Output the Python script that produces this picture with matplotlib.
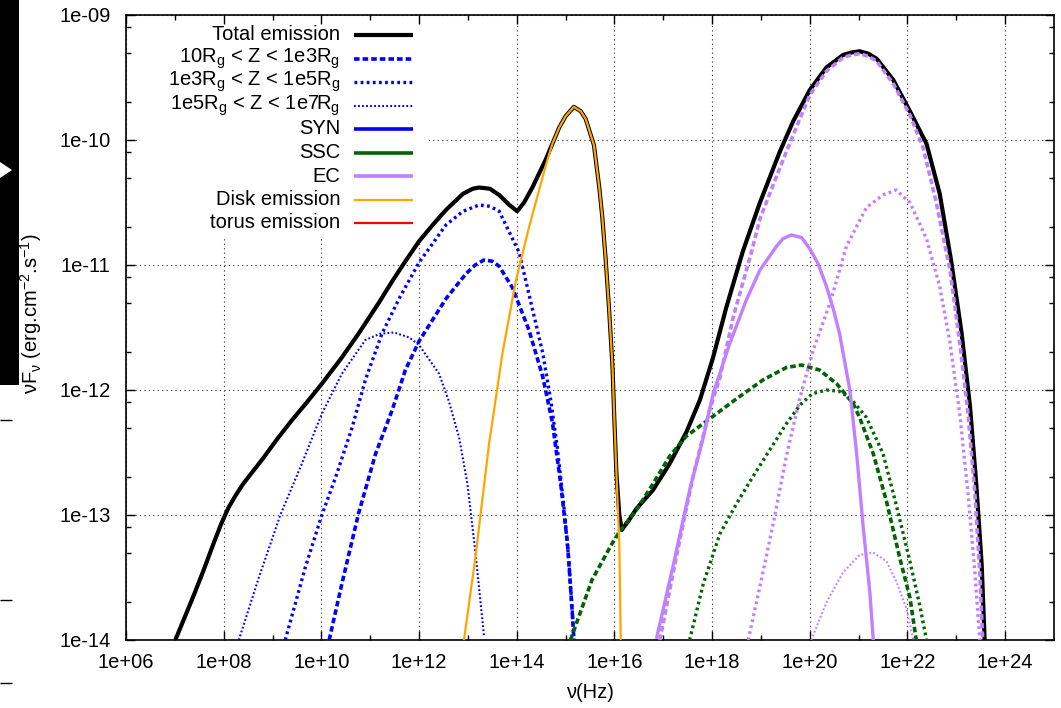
import numpy as np
import matplotlib
matplotlib.use("Agg")
import matplotlib.pyplot as plt
from matplotlib.lines import Line2D
from matplotlib.patches import Rectangle, Polygon
from matplotlib.ticker import FixedLocator, FuncFormatter, NullFormatter

FS = 14.5
plt.rcParams.update({
    "font.family": ["Liberation Sans", "DejaVu Sans"],
    "font.size": FS,
    "mathtext.fontset": "custom",
    "mathtext.rm": "Liberation Sans",
    "mathtext.it": "Liberation Sans:italic",
    "lines.scale_dashes": False,
    "lines.solid_capstyle": "butt",
    "lines.solid_joinstyle": "round",
})

# values: log10(nu / Hz), log10(nuFnu / erg cm-2 s-1)
TOTAL_LNU = [7.01, 7.2, 7.4, 7.6, 7.8, 7.95, 8.1, 8.25, 8.4, 8.6, 8.8, 9.1, 9.4, 9.7,
             10.01, 10.4, 10.76, 11.18, 11.45, 11.72, 12.0, 12.3, 12.55, 12.9, 13.1,
             13.23, 13.45, 13.64, 13.85, 14.01, 14.15, 14.32, 14.59, 14.73, 14.87, 15.0,
             15.17, 15.31, 15.41, 15.58, 15.69, 15.75, 15.82, 15.89, 15.96, 16.0, 16.04,
             16.1, 16.15, 16.3, 16.45, 16.79, 17.13, 17.47, 17.75, 18.02, 18.29, 18.63,
             18.98, 19.39, 19.66, 20.0, 20.34, 20.68, 20.85, 21.02, 21.2, 21.37, 21.71,
             22.05, 22.39, 22.66, 22.90, 23.11, 23.28, 23.41, 23.52, 23.58]
TOTAL_LF = [-14.0, -13.82, -13.63, -13.43, -13.22, -13.07, -12.94, -12.84, -12.75, -12.65,
            -12.55, -12.39, -12.24, -12.10, -11.95, -11.75, -11.55, -11.30, -11.13, -10.97,
            -10.81, -10.67, -10.56, -10.43, -10.39, -10.38, -10.39, -10.44, -10.52, -10.57,
            -10.50, -10.38, -10.16, -10.03, -9.90, -9.81, -9.735, -9.77, -9.83, -10.04,
            -10.38, -10.61, -10.95, -11.35, -11.81, -12.25, -12.66, -13.0, -13.12, -13.04,
            -12.95, -12.80, -12.59, -12.34, -12.08, -11.74, -11.34, -10.89, -10.50, -10.09,
            -9.85, -9.60, -9.42, -9.32, -9.30, -9.29, -9.31, -9.35, -9.52, -9.77, -10.03,
            -10.43, -10.98, -11.55, -12.13, -12.76, -13.40, -14.0]

SYN1_LNU = [10.16, 10.42, 10.76, 11.11, 11.45, 11.72, 12.0, 12.55, 12.96, 13.15, 13.33,
            13.5, 13.64, 13.91, 14.25, 14.53, 14.73, 14.90, 15.04, 15.14, 15.17]
SYN1_LF = [-14.0, -13.55, -12.99, -12.51, -12.16, -11.84, -11.61, -11.27, -11.07, -11.0,
           -10.96, -10.97, -11.01, -11.18, -11.52, -11.89, -12.26, -12.75, -13.23, -13.80,
           -14.0]

SYN2_LNU = [9.26, 9.67, 10.01, 10.29, 10.63, 10.90, 11.24, 11.59, 12.0, 12.55, 12.9, 13.23,
            13.45, 13.64, 14.05, 14.32, 14.53, 14.70, 14.83, 14.97, 15.07, 15.17]
SYN2_LF = [-14.0, -13.42, -13.0, -12.70, -12.30, -11.92, -11.55, -11.27, -10.98, -10.68,
           -10.57, -10.52, -10.53, -10.57, -10.90, -11.35, -11.70, -12.09, -12.46, -12.95,
           -13.38, -13.97]

SYN3_LNU = [8.31, 8.72, 9.16, 9.60, 10.01, 10.42, 10.90, 11.2, 11.49, 11.8, 12.0, 12.41,
            12.61, 12.82, 12.99, 13.16, 13.33]
SYN3_LF = [-14.0, -13.50, -13.0, -12.59, -12.19, -11.87, -11.60, -11.55, -11.54, -11.58,
           -11.64, -11.87, -12.09, -12.38, -12.75, -13.32, -13.97]

DISK_LNU = [12.92, 13.16, 13.43, 13.71, 13.98, 14.25, 14.59, 14.73, 14.87, 15.0, 15.17,
            15.31, 15.41, 15.58, 15.69, 15.75, 15.82, 15.89, 15.96, 16.0, 16.04, 16.10,
            16.13]
DISK_LF = [-14.0, -13.32, -12.44, -11.70, -11.13, -10.70, -10.21, -10.03, -9.90, -9.81,
           -9.735, -9.77, -9.83, -10.04, -10.38, -10.61, -10.95, -11.35, -11.81, -12.25,
           -12.66, -13.23, -14.0]

SSC1_LNU = [15.10, 15.54, 15.95, 16.11, 16.45, 16.79, 17.13, 17.47, 17.95, 18.50, 19.04,
            19.52, 19.83, 20.20, 20.55, 20.89, 21.02, 21.30, 21.57, 21.84, 22.05, 22.18]
SSC1_LF = [-14.0, -13.52, -13.23, -13.13, -12.96, -12.75, -12.53, -12.37, -12.23, -12.07,
           -11.92, -11.82, -11.80, -11.84, -11.95, -12.11, -12.22, -12.51, -12.89, -13.34,
           -13.66, -14.0]

SSC2_LNU = [17.54, 17.82, 18.16, 18.50, 18.84, 19.18, 19.52, 19.80, 20.05, 20.34, 20.60,
            20.82, 21.16, 21.50, 21.77, 22.05, 22.25, 22.39]
SSC2_LF = [-14.0, -13.55, -13.15, -12.91, -12.69, -12.48, -12.27, -12.12, -12.03, -12.0,
           -12.01, -12.06, -12.22, -12.51, -12.92, -13.37, -13.72, -14.0]

EC_LNU = [16.86, 17.20, 17.54, 17.82, 18.02, 18.36, 18.70, 18.98, 19.32, 19.45, 19.62,
          19.83, 20.0, 20.17, 20.34, 20.48, 20.61, 20.82, 20.96, 21.09, 21.23, 21.30]
EC_LF = [-13.99, -13.41, -12.80, -12.38, -12.03, -11.63, -11.28, -11.04, -10.85, -10.79,
         -10.76, -10.78, -10.87, -10.99, -11.17, -11.35, -11.55, -12.0, -12.51, -13.08,
         -13.62, -14.0]

EC1_LNU = [16.93, 17.27, 17.61, 17.95, 18.16, 18.43, 18.81, 18.98, 19.39, 19.66, 20.0,
           20.34, 20.68, 20.85, 21.02, 21.2, 21.37, 21.71, 22.05, 22.32, 22.59, 22.87,
           23.07, 23.24, 23.38, 23.48, 23.54]
EC1_LF = [-14.0, -13.33, -12.69, -12.16, -11.90, -11.42, -10.89, -10.63, -10.22, -9.96,
          -9.64, -9.45, -9.34, -9.32, -9.31, -9.33, -9.37, -9.55, -9.80, -10.06, -10.50,
          -11.04, -11.62, -12.19, -12.83, -13.46, -14.0]

EC2_LNU = [18.74, 18.98, 19.25, 19.52, 19.80, 20.07, 20.41, 20.75, 21.16, 21.50, 21.77,
           22.05, 22.39, 22.66, 22.87, 23.07, 23.24, 23.38, 23.48]
EC2_LF = [-14.0, -13.57, -13.07, -12.53, -12.06, -11.68, -11.31, -10.85, -10.54, -10.44,
          -10.40, -10.50, -10.79, -11.17, -11.62, -12.19, -12.83, -13.46, -14.0]

EC3_LNU = [20.03, 20.34, 20.68, 21.02, 21.30, 21.57, 21.77, 21.98, 22.12]
EC3_LF = [-14.0, -13.70, -13.46, -13.32, -13.30, -13.37, -13.53, -13.75, -14.0]

LEGEND = [
    "Total emission",
    r"10R$_\mathregular{g}$ < Z < 1e3R$_\mathregular{g}$",
    r"1e3R$_\mathregular{g}$ < Z < 1e5R$_\mathregular{g}$",
    r"1e5R$_\mathregular{g}$ < Z < 1e7R$_\mathregular{g}$",
    "SYN", "SSC", "EC", "Disk emission", "torus emission",
]

BLUE, GREEN, PURPLE = "#0000ff", "#006400", "#c080ff"
ORANGE, RED = "#ffa500", "#ff0000"
DASH = (0, (4.0, 2.2))
DOT = (0, (2.0, 2.4))
FINEDOT = (0, (1.3, 1.6))

W, H = 1061, 708
fig = plt.figure(figsize=(W / 100, H / 100), dpi=100)
ax = fig.add_axes([126 / W, 1 - 640 / H, 928 / W, 625 / H])


def curve(lnu, lf, **kw):
    ax.plot(10.0 ** np.array(lnu), 10.0 ** np.array(lf), **kw)


curve(TOTAL_LNU, TOTAL_LF, color="black", lw=3.0, zorder=3)
curve(SYN1_LNU, SYN1_LF, color=BLUE, lw=2.6, ls=DASH, zorder=4)
curve(SYN2_LNU, SYN2_LF, color=BLUE, lw=2.4, ls=DOT, zorder=4)
curve(SYN3_LNU, SYN3_LF, color=BLUE, lw=1.5, ls=FINEDOT, zorder=4)
curve(SSC1_LNU, SSC1_LF, color=GREEN, lw=2.6, ls=DASH, zorder=4)
curve(SSC2_LNU, SSC2_LF, color=GREEN, lw=2.4, ls=DOT, zorder=4)
curve(EC_LNU, EC_LF, color=PURPLE, lw=2.4, zorder=4)
curve(EC1_LNU, EC1_LF, color=PURPLE, lw=2.6, ls=DASH, zorder=4)
curve(EC2_LNU, EC2_LF, color=PURPLE, lw=2.4, ls=DOT, zorder=4)
curve(EC3_LNU, EC3_LF, color=PURPLE, lw=1.5, ls=FINEDOT, zorder=4)
curve(DISK_LNU, DISK_LF, color=ORANGE, lw=1.6, zorder=5)

ax.set_xscale("log")
ax.set_yscale("log")
ax.set_xlim(1e6, 1e25)
ax.set_ylim(1e-14, 1e-9)
ax.xaxis.set_major_locator(FixedLocator(10.0 ** np.arange(6, 25, 2)))
ax.xaxis.set_minor_locator(FixedLocator(10.0 ** np.arange(7, 25, 2)))
ax.yaxis.set_major_locator(FixedLocator(10.0 ** np.arange(-14, -8)))
ax.yaxis.set_minor_locator(FixedLocator(
    [m * 10.0 ** e for e in range(-14, -9) for m in (2, 5, 8)]))
fmt = FuncFormatter(lambda v, p: "{:.0e}".format(v))
ax.xaxis.set_major_formatter(fmt)
ax.yaxis.set_major_formatter(fmt)
ax.xaxis.set_minor_formatter(NullFormatter())
ax.yaxis.set_minor_formatter(NullFormatter())
ax.tick_params(which="both", direction="in", top=True, right=True, width=1.0,
               labelsize=FS)
ax.tick_params(which="major", length=6.5)
ax.tick_params(which="minor", length=3.3)
ax.tick_params(axis="x", pad=9)
ax.tick_params(axis="y", pad=11)
for s in ax.spines.values():
    s.set_linewidth(1.2)
ax.set_axisbelow(True)
ax.grid(True, which="major", color="0.3", lw=0.8, ls=(0, (1, 2.2)))

# white legend background (hides the grid like gnuplot's key)
ax.add_patch(Rectangle(((140 - 126) / 928, 1 - (236 - 15) / 625), (427 - 140) / 928,
                       (236 - 25) / 625, transform=ax.transAxes, facecolor="white",
                       edgecolor="none", zorder=1))

styles = [("black", "-", 3.0), (BLUE, DASH, 2.6), (BLUE, DOT, 2.4), (BLUE, FINEDOT, 1.5),
          (BLUE, "-", 2.6), (GREEN, "-", 2.6), (PURPLE, "-", 2.6), (ORANGE, "-", 1.6),
          (RED, "-", 1.6)]
for i, (label, (c, ls, lw)) in enumerate(zip(LEGEND, styles)):
    py = 35 + 23.5 * i
    fig.text(340 / W, 1 - py / H, label, ha="right", va="center", fontsize=FS)
    fig.add_artist(Line2D([354 / W, 413 / W], [1 - py / H, 1 - py / H], color=c,
                          ls=ls, lw=lw, zorder=5))

fig.text(590 / W, 1 - 692 / H, "ν(Hz)", ha="center", va="center", fontsize=FS)
fig.text(31 / W, 1 - 314 / H,
         r"νF$_\mathregular{ν}$ (erg.cm$^\mathregular{-2}$.s$^\mathregular{-1}$)",
         rotation=90, ha="center", va="center", fontsize=FS)

# strip of the neighbouring figure at the left edge
fig.add_artist(Rectangle((0, 1 - 385 / H), 19 / W, 385 / H, transform=fig.transFigure,
                         facecolor="black", edgecolor="none"))
fig.add_artist(Polygon([[0, 1 - 162 / H], [12 / W, 1 - 170 / H], [0, 1 - 178 / H]],
                       closed=True, transform=fig.transFigure, facecolor="white",
                       edgecolor="none", zorder=3))
for py in (420, 600, 683):
    fig.add_artist(Line2D([0, 12 / W], [1 - py / H, 1 - py / H], color="black", lw=1.0))

fig.savefig("out.png", dpi=100)
